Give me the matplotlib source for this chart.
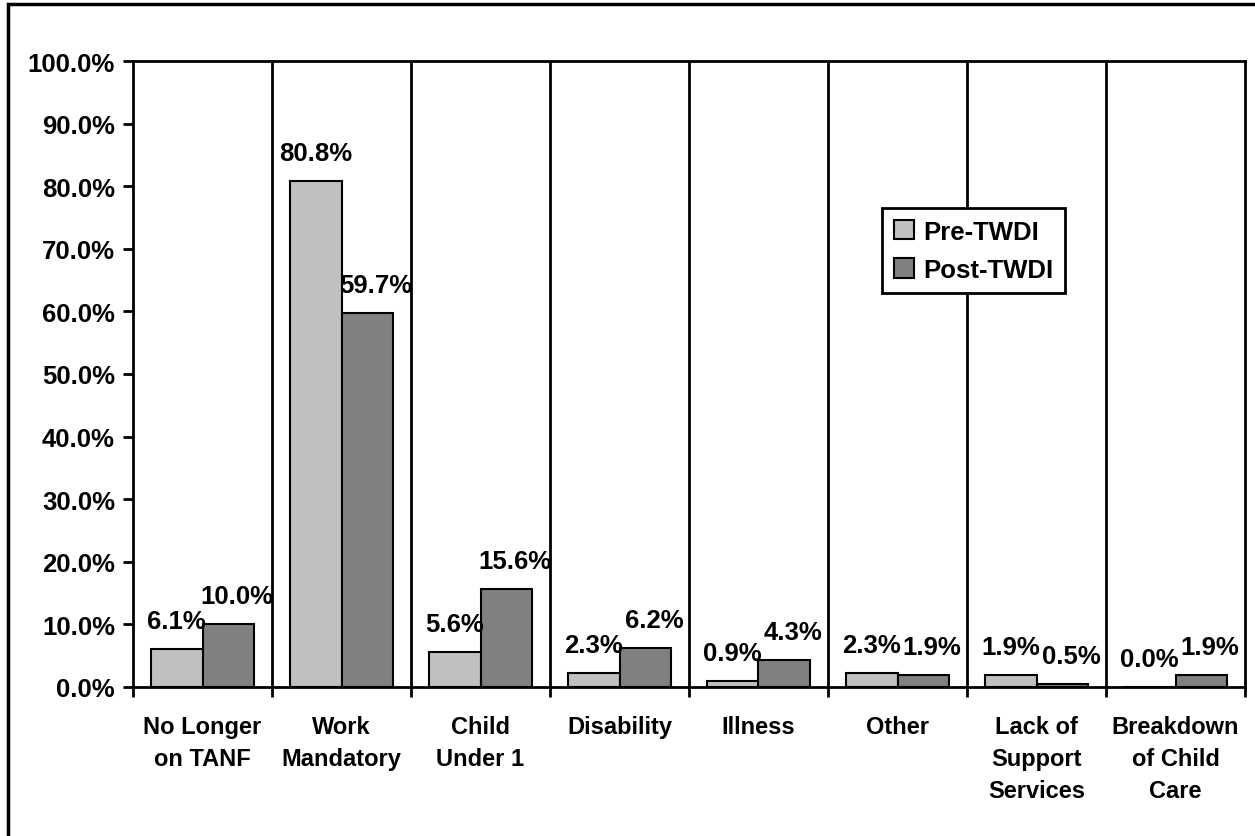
import matplotlib.pyplot as plt
import numpy as np
from matplotlib.patches import Rectangle

plt.rcParams['font.family'] = ['Liberation Sans', 'DejaVu Sans']
plt.rcParams['font.weight'] = 'bold'

categories = ["No Longer\non TANF", "Work\nMandatory", "Child\nUnder 1", "Disability",
              "Illness", "Other", "Lack of\nSupport\nServices", "Breakdown\nof Child\nCare"]
pre_twdi = [6.1, 80.8, 5.6, 2.3, 0.9, 2.3, 1.9, 0.0]
post_twdi = [10.0, 59.7, 15.6, 6.2, 4.3, 1.9, 0.5, 1.9]
series_names = ["Pre-TWDI", "Post-TWDI"]

fs_num = 18.5   # numbers & legend
fs_cat = 17     # category labels

fig = plt.figure(figsize=(12.55, 8.37), dpi=100)
ax = fig.add_axes([133 / 1255, 1 - 688 / 837, 1112 / 1255, 626 / 837])

# outer frame (left and top edges visible)
fig.patches.append(Rectangle((8 / 1255, -0.1), 1.2, 1 - 5 / 837 + 0.1, transform=fig.transFigure,
                             fill=False, edgecolor='black', linewidth=2.5))

x = np.arange(len(categories))
w = 0.37
b1 = ax.bar(x - w / 2, pre_twdi, w, color='#C0C0C0', edgecolor='black', linewidth=1.5,
            label=series_names[0], zorder=3)
b2 = ax.bar(x + w / 2, post_twdi, w, color='#808080', edgecolor='black', linewidth=1.5,
            label=series_names[1], zorder=3)

# post labels sit a little to the right, like the Excel original
for bars, vals, dx in ((b1, pre_twdi, 0), (b2, post_twdi, 6.5)):
    for rect, v in zip(bars, vals):
        ax.annotate(f"{v:.1f}%", (rect.get_x() + rect.get_width() / 2, v),
                    xytext=(dx, 11.5), textcoords='offset points', ha='center', va='bottom',
                    fontsize=fs_num, fontweight='bold', zorder=4)

ax.set_xlim(-0.5, len(categories) - 0.5)
ax.set_ylim(0, 100)
ax.set_yticks(np.arange(0, 101, 10))
ax.set_yticklabels([f"{t:.1f}%" for t in np.arange(0, 101, 10)], fontsize=fs_num, fontweight='bold')

# category separators
ax.set_xticks(np.arange(-0.5, len(categories), 1))
ax.set_xticklabels([])
ax.set_xticks(x, minor=True)
ax.set_xticklabels(categories, minor=True, fontsize=fs_cat, fontweight='bold', linespacing=1.5)
ax.tick_params(axis='x', which='minor', length=0, pad=20)
ax.tick_params(axis='x', which='major', length=7, width=2, direction='out')
ax.tick_params(axis='y', length=7, width=2, direction='out', pad=6)
for xv in np.arange(0.5, len(categories) - 1, 1):
    ax.axvline(xv, color='black', linewidth=2, zorder=1)

for s in ax.spines.values():
    s.set_linewidth(2)

leg = ax.legend(loc='upper left', bbox_to_anchor=(749 / 1112, 479 / 626),
                frameon=True, fancybox=False, edgecolor='black', framealpha=1,
                handlelength=0.8, handleheight=0.8, handletextpad=0.35, borderpad=0.45,
                labelspacing=0.55, borderaxespad=0, prop={'weight': 'bold', 'size': fs_num})
leg.get_frame().set_linewidth(2)
leg.set_zorder(5)

fig.savefig("out.png", dpi=100)
